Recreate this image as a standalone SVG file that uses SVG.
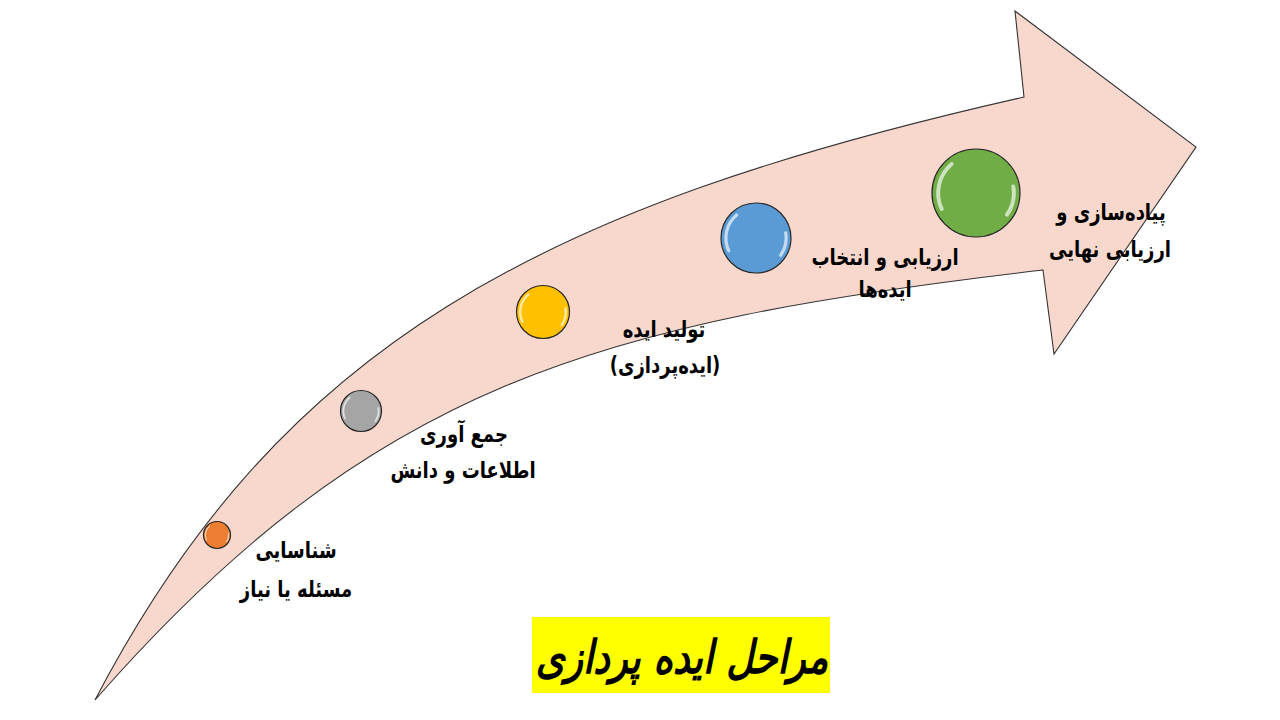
<svg xmlns="http://www.w3.org/2000/svg" xmlns:xlink="http://www.w3.org/1999/xlink" width="1280" height="720" viewBox="0 0 1280 720">
<style>
.lbl{font-family:"DejaVu Sans",sans-serif;font-weight:bold;font-size:20px;fill:#000;text-anchor:middle}
.dot{stroke:#262626;stroke-width:1.2}
.gl{fill:none;stroke:#fff;stroke-opacity:0.65;stroke-width:0.09;stroke-linecap:round}
</style>
<defs>
<g id="gloss">
<path class="gl" d="M-0.779,0.364 A0.86,0.86 0 0 1 -0.553,-0.659"/>
<path class="gl" d="M0.847,-0.149 A0.86,0.86 0 0 1 0.704,0.493"/>
</g>
</defs>
<rect width="1280" height="720" fill="#fff"/>
<g id="arrow">
<path d="M95,700 C280,346 537,207 1024,97 L1015,11 L1196,147 L1054,354 L1043,270 C596,322 372,384 95,700 Z" fill="#f8d8cd" stroke="#333" stroke-width="1.1"/>
</g>
<g id="connectors"></g>
<g id="step1">
<circle class="dot" cx="217" cy="535" r="13.5" fill="#ed7d31"/>
<use xlink:href="#gloss" transform="translate(217,535) scale(13.5)"/>
<text class="lbl" direction="rtl" transform="translate(296,558) scale(0.9,1.15)">شناسایی</text>
<text class="lbl" direction="rtl" transform="translate(296,597) scale(0.9,1.15)">مسئله یا نیاز</text>
</g>
<g id="step2">
<circle class="dot" cx="361" cy="411" r="20.5" fill="#a5a5a5"/>
<use xlink:href="#gloss" transform="translate(361,411) scale(20.5)"/>
<text class="lbl" direction="rtl" transform="translate(464,442) scale(0.9,1.15)">جمع آوری</text>
<text class="lbl" direction="rtl" transform="translate(463,478) scale(0.9,1.15)">اطلاعات و دانش</text>
</g>
<g id="step3">
<circle class="dot" cx="543" cy="312" r="26.5" fill="#ffc000"/>
<use xlink:href="#gloss" transform="translate(543,312) scale(26.5)"/>
<text class="lbl" direction="rtl" transform="translate(664,337) scale(0.9,1.15)">تولید ایده</text>
<text class="lbl" direction="rtl" transform="translate(665,373) scale(0.9,1.15)">(ایده‌پردازی)</text>
</g>
<g id="step4">
<circle class="dot" cx="756" cy="238" r="35" fill="#5b9bd5"/>
<use xlink:href="#gloss" transform="translate(756,238) scale(35)"/>
<text class="lbl" direction="rtl" transform="translate(885,265) scale(0.9,1.15)">ارزیابی و انتخاب</text>
<text class="lbl" direction="rtl" transform="translate(885,297) scale(0.9,1.15)">ایده‌ها</text>
</g>
<g id="step5">
<circle class="dot" cx="976" cy="193" r="44" fill="#70ad47"/>
<use xlink:href="#gloss" transform="translate(976,193) scale(44)"/>
<text class="lbl" direction="rtl" transform="translate(1111,220) scale(0.9,1.15)">پیاده‌سازی و</text>
<text class="lbl" direction="rtl" transform="translate(1110,257) scale(0.9,1.15)">ارزیابی نهایی</text>
</g>
<g id="title">
<rect x="532" y="617" width="298" height="76" fill="#ffff00"/>
<text direction="rtl" transform="translate(682,673) scale(0.93,1.15)" font-family="DejaVu Sans, sans-serif" font-weight="bold" font-style="italic" font-size="40" text-anchor="middle">مراحل ایده پردازی</text>
</g>
</svg>
